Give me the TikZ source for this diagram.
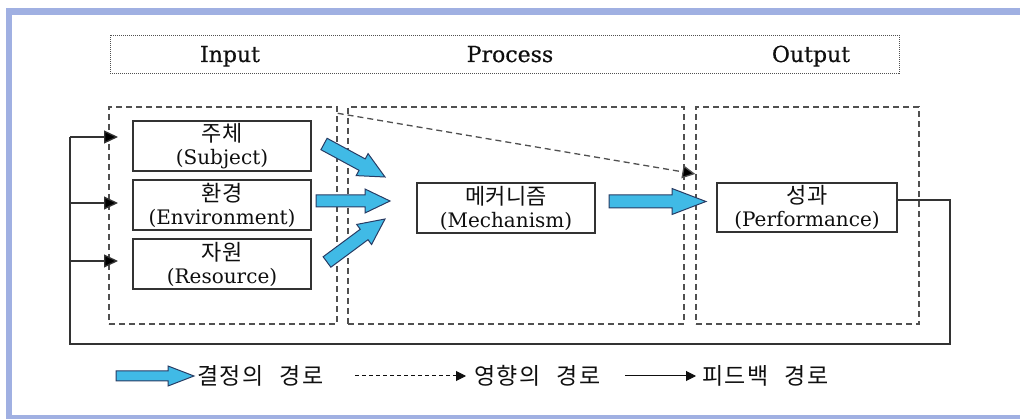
\documentclass[tikz,border=0pt]{standalone}
\usepackage{fontspec}
\setmainfont{DejaVu Serif}
\newfontfamily\hdrfont[FakeBold=0.4]{DejaVu Serif}
\newfontfamily\kr{Noto Sans CJK KR}
\newfontfamily\krleg[LetterSpace=6,WordSpace=2.5]{Noto Sans CJK KR}
\usetikzlibrary{calc,arrows.meta}
\definecolor{bord}{RGB}{160,176,226}
\definecolor{sky}{RGB}{64,186,230}
\definecolor{skyline}{RGB}{40,60,100}
\definecolor{dgray}{RGB}{80,80,80}
\definecolor{ink}{RGB}{15,15,15}
\tikzset{
  hdrbox/.style={draw=dgray,line width=0.8pt,dash pattern=on 1pt off 1pt,minimum width=789pt,minimum height=38pt,inner sep=0pt},
  hdrtext/.style={font=\hdrfont\fontsize{22}{24}\selectfont,text=ink,anchor=base,inner sep=0pt},
  dbox/.style={draw=dgray,line width=1.4pt,dash pattern=on 6pt off 4pt,minimum height=217pt,inner sep=0pt},
  sbox/.style={draw=ink!85,line width=1.2pt,minimum width=178pt,minimum height=50pt,inner sep=0pt,align=center,font=\fontsize{20}{23}\selectfont,text=ink},
  blk/.style={fill=sky,draw=skyline,line width=1pt,line join=miter},
  fb/.style={draw=ink!85,line width=1.3pt},
  fbarrow/.style={fb,-{Triangle[length=14pt,width=13pt,fill=black]}},
  infl/.style={draw=dgray,line width=1.3pt,dash pattern=on 6pt off 4pt,-{Triangle[length=13pt,width=13pt,fill=black]}},
  legtext/.style={anchor=west,inner sep=0pt,font=\krleg\fontsize{23}{24}\selectfont,text=ink},
  legdash/.style={draw=ink,line width=1pt,dash pattern=on 4pt off 3pt,-{Triangle[length=10pt,width=10pt]}},
  legsolid/.style={draw=ink,line width=1pt,-{Triangle[length=10pt,width=10pt]}}
}
\newcommand\krbig[1]{{\kr\fontsize{22}{23}\selectfont #1}}
\newcommand\blockarr[6]{%
  \coordinate (bh) at ($(#2)!#5!(#1)$);
  \draw[#6] ($(#1)!#3!90:(#2)$) -- ($(bh)!#3!90:(#2)$) -- ($(bh)!#4!90:(#2)$) -- (#2)
    -- ($(bh)!#4!-90:(#2)$) -- ($(bh)!#3!-90:(#2)$) -- ($(#1)!#3!-90:(#2)$) -- cycle;}
\begin{document}
\begin{tikzpicture}[x=1pt,y=-1pt]
\useasboundingbox (0,0) rectangle (1020,419);
% frame
\fill[bord] (6,8) rectangle (1020,15);
\fill[bord] (6,8) rectangle (12,419);
\fill[bord] (6,415) rectangle (1020,419);
% header
\node[hdrbox] (hdr) at (504.5,54) {};
\node[hdrtext] (hin) at (230,62) {Input};
\node[hdrtext] (hpr) at (510,62) {Process};
\node[hdrtext] (hout) at (811,62) {Output};
% dashed group boxes
\node[dbox,minimum width=228pt] (inbox) at (223,215.5) {};
\node[dbox,minimum width=336pt] (procbox) at (516,215.5) {};
\node[dbox,minimum width=223pt] (outbox) at (807.5,215.5) {};
% solid boxes
\node[sbox] (subj) at (222,146) {\krbig{주체}\\(Subject)};
\node[sbox] (env) at (222,205) {\krbig{환경}\\(Environment)};
\node[sbox] (res) at (222,264) {\krbig{자원}\\(Resource)};
\node[sbox] (mech) at (506,208) {\krbig{메커니즘}\\(Mechanism)};
\node[sbox,minimum width=180pt,minimum height=49pt] (perf) at (807,207.5) {\krbig{성과}\\(Performance)};
% blue decision arrows
\coordinate (a1s) at (324,144); \coordinate (a1e) at (385,177);
\coordinate (a2s) at (316,201); \coordinate (a2e) at (390,201);
\coordinate (a3s) at (327,262); \coordinate (a3e) at (385,219);
\coordinate (a4s) at (609,201.5); \coordinate (a4e) at (706,201.5);
\blockarr{a1s}{a1e}{6.5pt}{12.5pt}{26pt}{blk}
\blockarr{a2s}{a2e}{6pt}{12pt}{25pt}{blk}
\blockarr{a3s}{a3e}{6.5pt}{12.5pt}{26pt}{blk}
\blockarr{a4s}{a4e}{6.5pt}{13pt}{34pt}{blk}
% influence arrow
\draw[infl] ([yshift=-7pt]inbox.north east) -- ([yshift=41.5pt]outbox.west);
% feedback
\coordinate (fbR) at (950,344);
\coordinate (fbL) at (70,137);
\coordinate (fb2) at (70,203);
\coordinate (fb3) at (70,261);
\coordinate (t1) at (118,137);
\coordinate (t2) at (118,203);
\coordinate (t3) at (118,261);
\draw[fb] ([yshift=7.5pt]perf.east) -| (fbR) -| (fbL);
\draw[fbarrow] (fbL) -- (t1);
\draw[fbarrow] (fb2) -- (t2);
\draw[fbarrow] (fb3) -- (t3);
% legend
\coordinate (l1s) at (116,376); \coordinate (l1e) at (194,376);
\blockarr{l1s}{l1e}{5pt}{10pt}{26pt}{blk}
\node[legtext] (lt1) at (197,376) {결정의 경로};
\coordinate (l2s) at (355,376); \coordinate (l2e) at (466,376);
\draw[legdash] (l2s) -- (l2e);
\node[legtext] (lt2) at (474,376) {영향의 경로};
\coordinate (l3s) at (625,376); \coordinate (l3e) at (696,376);
\draw[legsolid] (l3s) -- (l3e);
\node[legtext] (lt3) at (702,376) {피드백 경로};
\end{tikzpicture}
\end{document}
